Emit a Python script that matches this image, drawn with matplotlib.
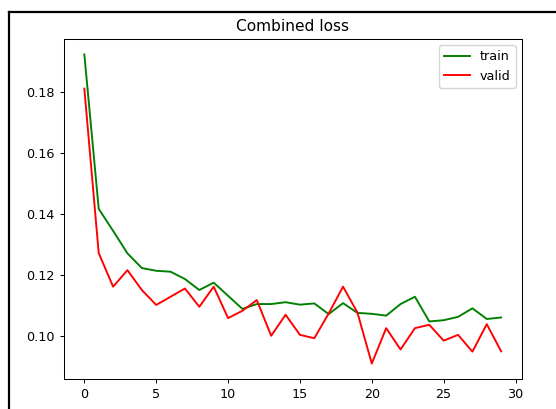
import matplotlib
matplotlib.use("Agg")
import matplotlib.pyplot as plt
from matplotlib.lines import Line2D

# loss values per epoch
epochs = list(range(30))
train_loss = [0.1923, 0.1417, 0.1345, 0.1271, 0.1223, 0.1214, 0.1211, 0.1187, 0.1151, 0.1175,
              0.1132, 0.1089, 0.1105, 0.1105, 0.1111, 0.1103, 0.1107, 0.1072, 0.1108, 0.1076,
              0.1073, 0.1067, 0.1105, 0.1129, 0.1048, 0.1052, 0.1063, 0.1091, 0.1056, 0.1061]
valid_loss = [0.1811, 0.1272, 0.1162, 0.1216, 0.1151, 0.1102, 0.1129, 0.1156, 0.1096, 0.1162,
              0.1059, 0.1083, 0.1118, 0.1001, 0.1070, 0.1004, 0.0993, 0.1074, 0.1162, 0.1077,
              0.0910, 0.1026, 0.0956, 0.1026, 0.1037, 0.0985, 0.1004, 0.0949, 0.1039, 0.0950]

W, H = 556, 409
s = 0.92  # screenshot was scaled down a little

fig = plt.figure(figsize=(W / 100, H / 100), dpi=100)
left, right, top, bottom = 63.5, 522, 39, 379
ax = fig.add_axes([left / W, 1 - bottom / H, (right - left) / W, (bottom - top) / H])

ax.plot(epochs, train_loss, color='green', linewidth=1.5 * s, label='train')
ax.plot(epochs, valid_loss, color='red', linewidth=1.5 * s, label='valid')

ax.set_title('Combined loss', fontsize=12 * s, pad=6 * s)
ax.set_xticks([0, 5, 10, 15, 20, 25, 30])
ax.set_yticks([0.10, 0.12, 0.14, 0.16, 0.18])
ax.tick_params(labelsize=10 * s, length=3.5 * s, width=0.8 * s, pad=3.5 * s)
for sp in ax.spines.values():
    sp.set_linewidth(0.8 * s)
ax.legend(fontsize=10 * s, loc='upper right')

# black frame of the screenshot (top and left edges)
fig.add_artist(Line2D([8.5 / W, 1], [1 - 11.5 / H, 1 - 11.5 / H], color='black',
                      linewidth=1.6, transform=fig.transFigure))
fig.add_artist(Line2D([8.5 / W, 8.5 / W], [0, 1 - 11.5 / H], color='black',
                      linewidth=1.6, transform=fig.transFigure))

fig.savefig('out.png', dpi=100)
